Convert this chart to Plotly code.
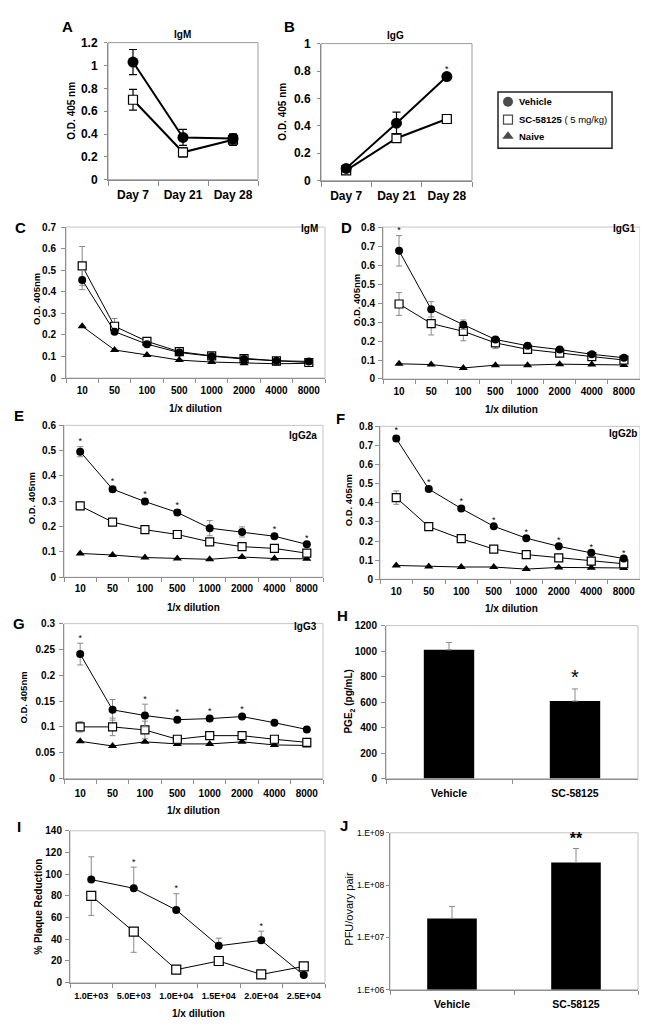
import plotly.graph_objects as go

W, H = 648, 1032
FONT = "Arial, 'Liberation Sans', Helvetica, sans-serif"

# ---------------- data ----------------
days = ["Day 7", "Day 21", "Day 28"]
A_veh = [1.03, 0.37, 0.36]
A_veh_err = [0.11, 0.07, 0.04]
A_sc = [0.70, 0.24, 0.35]
A_sc_err = [0.09, 0.04, 0.05]

B_veh = [0.09, 0.42, 0.76]
B_veh_err = [0.01, 0.08, 0.02]
B_sc = [0.075, 0.31, 0.45]
B_sc_err = [0.01, 0.03, 0.03]
B_star = [0, 0, 1]

dil = ["10", "50", "100", "500", "1000", "2000", "4000", "8000"]

C_veh = [0.455, 0.215, 0.157, 0.118, 0.101, 0.088, 0.080, 0.077]
C_veh_err = [0.045, 0.010, 0.006, 0.005, 0.004, 0.004, 0.003, 0.003]
C_sc = [0.52, 0.24, 0.170, 0.122, 0.103, 0.090, 0.080, 0.072]
C_sc_err = [0.09, 0.036, 0.010, 0.006, 0.005, 0.004, 0.004, 0.004]
C_nv = [0.24, 0.13, 0.107, 0.083, 0.074, 0.069, 0.066, 0.068]
C_star = [0, 0, 0, 0, 0, 0, 0, 0]

D_veh = [0.675, 0.367, 0.286, 0.208, 0.175, 0.155, 0.130, 0.112]
D_veh_err = [0.08, 0.04, 0.025, 0.010, 0.008, 0.006, 0.005, 0.004]
D_sc = [0.395, 0.292, 0.251, 0.190, 0.156, 0.136, 0.118, 0.100]
D_sc_err = [0.06, 0.06, 0.05, 0.03, 0.015, 0.010, 0.008, 0.006]
D_nv = [0.080, 0.076, 0.058, 0.073, 0.073, 0.078, 0.076, 0.074]
D_star = [1, 0, 0, 0, 0, 0, 0, 0]

E_veh = [0.496, 0.348, 0.299, 0.256, 0.194, 0.179, 0.162, 0.130]
E_veh_err = [0.020, 0.010, 0.010, 0.010, 0.030, 0.020, 0.008, 0.006]
E_sc = [0.282, 0.218, 0.188, 0.169, 0.140, 0.121, 0.114, 0.095]
E_sc_err = [0.015, 0.008, 0.008, 0.006, 0.006, 0.015, 0.006, 0.005]
E_nv = [0.094, 0.088, 0.078, 0.074, 0.071, 0.080, 0.074, 0.073]
E_star = [1, 1, 1, 1, 0, 0, 1, 1]

F_veh = [0.736, 0.472, 0.370, 0.277, 0.215, 0.172, 0.138, 0.108]
F_veh_err = [0.015, 0.010, 0.012, 0.008, 0.006, 0.006, 0.005, 0.004]
F_sc = [0.427, 0.275, 0.212, 0.158, 0.129, 0.112, 0.095, 0.081]
F_sc_err = [0.035, 0.020, 0.008, 0.006, 0.005, 0.004, 0.004, 0.004]
F_nv = [0.072, 0.067, 0.064, 0.064, 0.053, 0.062, 0.060, 0.059]
F_star = [1, 1, 1, 1, 1, 1, 1, 1]

G_veh = [0.241, 0.133, 0.122, 0.114, 0.116, 0.120, 0.108, 0.095]
G_veh_err = [0.021, 0.020, 0.022, 0.004, 0.004, 0.004, 0.003, 0.003]
G_sc = [0.100, 0.100, 0.094, 0.076, 0.083, 0.083, 0.076, 0.070]
G_sc_err = [0.010, 0.017, 0.017, 0.004, 0.004, 0.004, 0.003, 0.003]
G_nv = [0.072, 0.063, 0.071, 0.067, 0.067, 0.071, 0.065, 0.064]
G_star = [1, 0, 1, 1, 1, 1, 0, 0]

H_cats = ["Vehicle", "SC-58125"]
H_vals = [1010, 608]
H_err = [58, 95]
H_star = ["", "*"]

I_cats = ["1.0E+03", "5.0E+03", "1.0E+04", "1.5E+04", "2.0E+04", "2.5E+04"]
I_veh = [95, 87, 67, 34, 39, 7]
I_veh_err = [21, 19.5, 15, 7, 8.5, 0]
I_sc = [80, 47, 12, 20, 7.6, 15]
I_sc_err = [18, 19, 0, 4, 0, 0]
I_star = [0, 1, 1, 0, 1, 0]

J_cats = ["Vehicle", "SC-58125"]
J_vals = [2.3e7, 2.7e8]
J_err = [1.6e7, 2.3e8]
J_star = ["", "**"]
J_tickvals = [1e6, 1e7, 1e8, 1e9]
J_ticktext = ["1.E+06", "1.E+07", "1.E+08", "1.E+09"]

legend_names = ["<b>Vehicle</b>", "<b>SC-58125</b> ( 5 mg/kg)", "<b>Naive</b>"]

# ---------------- layout helpers ----------------
boxes = {
    1: (100, 28, 250, 167),   # A
    2: (313, 29, 464, 168),   # B
    3: (58, 215, 317, 368),   # C
    4: (375, 215, 632, 369),  # D
    5: (56, 416, 315, 570),   # E
    6: (372, 417, 632, 572),  # F
    7: (56, 617, 315, 774),   # G
    8: (378, 619, 630, 774),  # H
    9: (62, 827, 317, 981),   # I
    10: (382, 829, 630, 988), # J
}

def px(v):
    return v / W

def py(v):
    return 1 - v / H

fig = go.Figure()
layout_axes = {}

def ref(i, a):
    return a if i == 1 else f"{a}{i}"

def tf(size, bold=True, family=FONT):
    return dict(family=family, size=size, color="black", weight="bold" if bold else "normal")

def setup(i, xkw, ykw, frame="#c4c4c4", axcol="#8f8f8f"):
    l, t, r, b = boxes[i]
    xa = dict(domain=[px(l), px(r)], anchor=ref(i, "y"), showgrid=False, zeroline=False,
              showline=True, linecolor=axcol, linewidth=1, ticks="outside", tickcolor=axcol,
              ticklen=4, fixedrange=True, tickangle=0, tickfont=tf(10))
    xa.update(xkw)
    ya = dict(domain=[py(b), py(t)], anchor=ref(i, "x"), showgrid=False, zeroline=False,
              showline=True, linecolor=axcol, linewidth=1, ticks="outside", tickcolor=axcol,
              ticklen=4, fixedrange=True, tickfont=tf(10))
    ya.update(ykw)
    layout_axes[ref(i, "xaxis")] = xa
    layout_axes[ref(i, "yaxis")] = ya
    fig.add_shape(type="rect", xref=ref(i, "x") + " domain", yref=ref(i, "y") + " domain",
                  x0=0, x1=1, y0=0, y1=1, line=dict(color=frame, width=1), layer="below")


def series(i, x, y, err, symbol, size, lw, errcol, capw, open_=False, errminus=None, ewidth=1):
    ey = dict(type="data", array=err, color=errcol, thickness=ewidth, width=capw, visible=True)
    if errminus is not None:
        ey["symmetric"] = False
        ey["arrayminus"] = errminus
    fig.add_trace(go.Scatter(
        x=x, y=y, mode="lines+markers", xaxis=ref(i, "x"), yaxis=ref(i, "y"),
        line=dict(color="black", width=lw),
        marker=dict(symbol=symbol, size=size, color="white" if open_ else "black",
                    line=dict(color="black", width=1.2 if open_ else 0)),
        error_y=ey, showlegend=False, hoverinfo="skip", cliponaxis=False))


def stars(i, x, y, err, flags, size=10, text="*", bold=False):
    xs, ys, ts = [], [], []
    for xv, yv, ev, f in zip(x, y, err, flags):
        if f:
            xs.append(xv)
            ys.append(yv + ev)
            ts.append(f if isinstance(f, str) else text)
    if xs:
        fig.add_trace(go.Scatter(x=xs, y=ys, mode="text", text=ts, textposition="top center",
                                 textfont=tf(size, bold),
                                 xaxis=ref(i, "x"), yaxis=ref(i, "y"), showlegend=False,
                                 hoverinfo="skip", cliponaxis=False))

# ---------------- Panel A & B ----------------
for i, (veh, ve, sc, se, rng) in {
        1: (A_veh, A_veh_err, A_sc, A_sc_err, [0, 1.2]),
        2: (B_veh, B_veh_err, B_sc, B_sc_err, [0, 1.0])}.items():
    setup(i,
          dict(type="category", range=[-0.5, 2.5], tickson="boundaries", ticklen=5,
               tickfont=tf(12), ticklabelstandoff=4),
          dict(range=rng, dtick=0.2, tick0=0, tickfont=tf(12), ticklen=3, ticklabelstandoff=4),
          frame="#9c9c9c", axcol="#8a8a8a")
    series(i, days, sc, se, "square", 9, 2, "black", 4, open_=True, ewidth=1.2)
    series(i, days, veh, ve, "circle", 11, 2, "black", 4, ewidth=1.2)
stars(2, days, B_veh, B_veh_err, B_star, size=9)

# ---------------- Panels C-G ----------------
panel_cg = {
    3: (C_veh, C_veh_err, C_sc, C_sc_err, C_nv, C_star, [0, 0.7], 0.1, 3, 3),
    4: (D_veh, D_veh_err, D_sc, D_sc_err, D_nv, D_star, [0, 0.8], 0.1, 3, 1),
    5: (E_veh, E_veh_err, E_sc, E_sc_err, E_nv, E_star, [0, 0.6], 0.1, 2, 1),
    6: (F_veh, F_veh_err, F_sc, F_sc_err, F_nv, F_star, [0, 0.8], 0.1, 3, 0),
    7: (G_veh, G_veh_err, G_sc, G_sc_err, G_nv, G_star, [0, 0.3], 0.05, 5, 2),
}
for i, (veh, ve, sc, se, nv, st, rng, dt, xs_off, ys_off) in panel_cg.items():
    setup(i,
          dict(type="category", range=[-0.5, 7.5], tickson="boundaries", ticklabelstandoff=xs_off),
          dict(range=rng, dtick=dt, tick0=0, ticklabelstandoff=ys_off))
    series(i, dil, nv, [0] * len(dil), "triangle-up", 8, 1, "#8a8a8a", 3)
    series(i, dil, sc, se, "square", 8, 1, "#8a8a8a", 3, open_=True)
    series(i, dil, veh, ve, "circle", 8, 1, "#8a8a8a", 3)
    stars(i, dil, veh, ve, st, size=9)

# ---------------- Panel H ----------------
setup(8,
      dict(type="category", range=[-0.5, 1.5], tickson="boundaries", ticklabelstandoff=5,
           tickfont=tf(10.5)),
      dict(range=[0, 1200], dtick=200, tick0=0, ticklabelstandoff=2))
fig.add_trace(go.Bar(x=H_cats, y=H_vals, xaxis="x8", yaxis="y8", marker=dict(color="black", line=dict(width=0)),
                     error_y=dict(type="data", array=H_err, symmetric=False, arrayminus=[0, 0],
                                  color="#8a8a8a", thickness=1, width=3),
                     showlegend=False, hoverinfo="skip"))
stars(8, H_cats, H_vals, H_err, H_star, size=20)

# ---------------- Panel I ----------------
setup(9,
      dict(type="category", range=[-0.5, 5.5], tickson="boundaries", ticklabelstandoff=5,
           tickfont=tf(9)),
      dict(range=[0, 140], dtick=20, tick0=0, ticklabelstandoff=1))
series(9, I_cats, I_sc, [0] * len(I_cats), "square", 9, 1, "#8a8a8a", 3, open_=True, errminus=I_sc_err)
series(9, I_cats, I_veh, I_veh_err, "circle", 8, 1, "#8a8a8a", 3, errminus=[0] * len(I_cats))
stars(9, I_cats, I_veh, I_veh_err, I_star, size=9)

# ---------------- Panel J ----------------
setup(10,
      dict(type="category", range=[-0.5, 1.5], tickson="boundaries", ticklabelstandoff=5,
           tickfont=tf(10.5)),
      dict(type="log", range=[6, 9], tickvals=J_tickvals, ticktext=J_ticktext, ticklabelstandoff=0,
           ticklen=3, tickfont=tf(8.5, bold=False)))
fig.add_trace(go.Bar(x=J_cats, y=J_vals, xaxis="x10", yaxis="y10", marker=dict(color="black", line=dict(width=0)),
                     error_y=dict(type="data", array=J_err, symmetric=False, arrayminus=[0, 0],
                                  color="#8a8a8a", thickness=1, width=3),
                     showlegend=False, hoverinfo="skip"))
stars(10, J_cats, J_vals, J_err, J_star, size=16, bold=True)

# ---------------- legend (manual) ----------------
layout_axes["xaxis11"] = dict(domain=[0, 1], range=[0, W], visible=False, fixedrange=True, anchor="y11")
layout_axes["yaxis11"] = dict(domain=[0, 1], range=[H, 0], visible=False, fixedrange=True, anchor="x11")
leg_y = [88, 106, 123]
fig.add_trace(go.Scatter(x=[500] * 3, y=leg_y, mode="markers", xaxis="x11", yaxis="y11",
                         marker=dict(symbol=["circle", "square", "triangle-up"], size=[10, 9, 10],
                                     color=["black", "white", "black"],
                                     line=dict(color="black", width=[0, 1.2, 0])),
                         showlegend=False, hoverinfo="skip"))
fig.add_shape(type="rect", xref="paper", yref="paper", x0=px(490), x1=px(604), y0=py(135), y1=py(78),
              line=dict(color="#222", width=1.5))

annotations = []

def ann(x, y, text, size=10, bold=True, angle=0, xanchor="center", yanchor="middle", family=FONT):
    annotations.append(dict(x=px(x), y=py(y), xref="paper", yref="paper", text=text, showarrow=False,
                            textangle=angle, xanchor=xanchor, yanchor=yanchor,
                            font=tf(size, bold, family)))

for yv, name in zip(leg_y, legend_names):
    ann(509, yv, name, size=9.5, bold=False, xanchor="left")

# panel letters
for (x, y, t) in [(59, 12, "A"), (281, 12, "B"), (12, 215, "C"), (338, 215, "D"),
                  (11, 406, "E"), (332, 409, "F"), (11, 617, "G"), (334, 609, "H"),
                  (11, 823, "I"), (336, 822, "J")]:
    ann(x, y, t, size=15)

# panel titles
ann(174, 20, "IgM", size=10)
ann(387, 21, "IgG", size=10)
ann(312, 216, "IgM", size=10, xanchor="right")
ann(630, 216, "IgG1", size=10, xanchor="right")
ann(311, 426, "IgG2a", size=10, xanchor="right")
ann(631, 424, "IgG2b", size=10, xanchor="right")
ann(311, 620, "IgG3", size=10, xanchor="right")

# y titles
ann(64, 97, "O.D. 405 nm", size=10, angle=-90)
ann(275, 98, "O.D. 405 nm", size=10, angle=-90)
ann(28, 288, "O.D. 405nm", size=9.5, angle=-90)
ann(348, 289, "O.D. 405nm", size=9.5, angle=-90)
ann(23, 490, "O.D. 405nm", size=9.5, angle=-90)
ann(340, 492, "O.D. 405nm", size=9.5, angle=-90)
ann(16, 692, "O.D. 405nm", size=9.5, angle=-90)
ann(341, 696, "PGE<sub>2</sub> (pg/mL)", size=10, angle=-90)
ann(31, 904, "% Plaque Reduction", size=10, angle=-90)
ann(341, 906, "PFU/ovary pair", size=11, angle=-90, bold=False)

# x titles
ann(187, 399, "1/x dilution", size=10)
ann(503, 400, "1/x dilution", size=10)
ann(185, 601, "1/x dilution", size=10)
ann(503, 602, "1/x dilution", size=10)
ann(185, 806, "1/x dilution", size=10)
ann(190, 1012, "1/x dilution", size=10)

fig.update_layout(
    width=W, height=H, margin=dict(l=0, r=0, t=0, b=0),
    paper_bgcolor="white", plot_bgcolor="rgba(0,0,0,0)",
    bargap=0.6, showlegend=False, annotations=annotations,
    font=dict(family=FONT, color="black"),
    **layout_axes)

fig.write_html("out.html")
